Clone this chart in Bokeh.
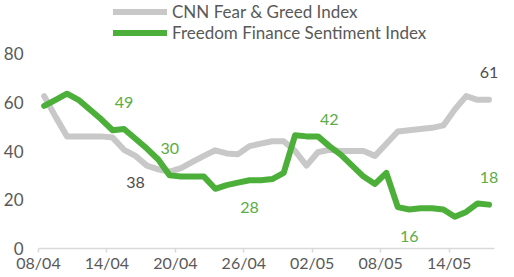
from bokeh.plotting import figure
from bokeh.models import (ColumnDataSource, LabelSet, Legend, LegendItem,
                          FixedTicker, Range1d)
from bokeh.embed import file_html
from bokeh.resources import INLINE
from bokeh.core.properties import value

# ---- data -------------------------------------------------------------
dates = ["08/04", "09/04", "10/04", "11/04", "12/04", "13/04", "14/04", "15/04",
         "16/04", "17/04", "18/04", "19/04", "20/04", "21/04", "22/04", "23/04",
         "24/04", "25/04", "26/04", "27/04", "28/04", "29/04", "30/04", "01/05",
         "02/05", "03/05", "04/05", "05/05", "06/05", "07/05", "08/05", "09/05",
         "10/05", "11/05", "12/05", "13/05", "14/05", "15/05", "16/05", "17/05"]

cnn_fear_greed = [62.5, 54, 46, 46, 46, 46, 45.5, 40.5, 38, 34,
                  32.5, 31.5, 33, 35.5, 38, 40.3, 39, 38.7, 42, 43,
                  44, 44, 40, 34, 39.5, 40.5, 40, 40, 40, 38,
                  43, 48, 48.5, 49, 49.5, 50.5, 57, 62.5, 61, 61]

ff_sentiment = [58.5, 61, 63.5, 61, 57, 53, 48.5, 49, 45, 41,
                36.5, 30, 29.5, 29.5, 29.5, 24.5, 26, 27, 28, 28,
                28.5, 31, 46.5, 46, 46, 42, 38.5, 34, 29.5, 26.5,
                31, 17, 16, 16.5, 16.5, 16, 13, 15, 18.5, 18]

tick_labels = ["08/04", "14/04", "20/04", "26/04", "02/05", "08/05", "14/05"]
y_ticks = [0, 20, 40, 60, 80]

ff_label_idx = [7, 11, 18, 25, 32, 39]
ff_label_pos = ["above", "above", "below", "above", "below", "above"]
cnn_label_idx = [8, 39]
cnn_label_pos = ["below", "above"]

# ---- styles / layout --------------------------------------------------
GRAY = "#c8c8c8"
GREEN = "#4caf3a"
GREEN_TXT = "#5aac46"
TXT = "#595959"
FONT = "Lato"

W, H = 498, 272
LEFT_PX = 38          # where x = 0 sits, px from canvas left
LAST_PX = 488.5       # where the last day sits
ZERO_PX = 248         # where y = 0 sits, px from canvas top
TOP80_PX = 53         # where y = 80 sits

n = len(dates)
x = [i + 0.5 for i in range(n)]
tick_pos = [dates.index(t) for t in tick_labels]

sx = (LAST_PX - LEFT_PX) / x[-1]
x_start = -LEFT_PX / sx
x_end = (W - LEFT_PX) / sx
sy = (ZERO_PX - TOP80_PX) / 80
y_end = ZERO_PX / sy
y_start = -(H - ZERO_PX) / sy

p = figure(width=W, height=H, output_backend="svg", toolbar_location=None,
           x_range=Range1d(x_start, x_end), y_range=Range1d(y_start, y_end),
           min_border_left=0, min_border_right=0, min_border_top=0,
           min_border_bottom=0)
p.outline_line_color = None
p.background_fill_color = "white"
p.border_fill_color = "white"
p.grid.visible = False

src = ColumnDataSource(dict(x=x, cnn=cnn_fear_greed, ff=ff_sentiment))
r_cnn = p.line("x", "cnn", source=src, line_color=GRAY, line_width=6,
               line_cap="round", line_join="round")
r_ff = p.line("x", "ff", source=src, line_color=GREEN, line_width=6,
              line_cap="round", line_join="round")

# axes (pinned inside the frame)
xa = p.xaxis[0]
xa.fixed_location = 0
xa.ticker = FixedTicker(ticks=tick_pos)
xa.bounds = (0, n)
xa.major_label_overrides = {tp: lab for tp, lab in zip(tick_pos, tick_labels)}
xa.axis_line_color = "#d9d9d9"
xa.axis_line_width = 1.5
xa.major_tick_line_color = "#d9d9d9"
xa.major_tick_line_width = 1.5
xa.major_tick_in = 0
xa.major_tick_out = 4
xa.minor_tick_line_color = None
xa.major_label_text_font = FONT
xa.major_label_text_font_size = "16px"
xa.major_label_text_color = TXT
xa.major_label_standoff = 0

ya = p.yaxis[0]
ya.fixed_location = 0
ya.ticker = FixedTicker(ticks=y_ticks)
ya.axis_line_color = None
ya.major_tick_line_color = None
ya.major_tick_in = 0
ya.major_tick_out = 0
ya.minor_tick_line_color = None
ya.major_label_text_font = FONT
ya.major_label_text_font_size = "17px"
ya.major_label_text_color = TXT
ya.major_label_standoff = 15

# data labels
def label_source(series, idx, pos):
    return ColumnDataSource(dict(
        x=[x[i] for i in idx],
        y=[series[i] for i in idx],
        t=[str(int(round(series[i]))) for i in idx],
        off=[27 if ps == "above" else -27 for ps in pos]))

for series, idx, pos, col in [(ff_sentiment, ff_label_idx, ff_label_pos, GREEN_TXT),
                              (cnn_fear_greed, cnn_label_idx, cnn_label_pos, "#4d4d4d")]:
    ls = LabelSet(x="x", y="y", text="t", y_offset="off", source=label_source(series, idx, pos),
                  text_font=value(FONT), text_font_size="16px", text_color=col,
                  text_align="center", text_baseline="middle")
    p.add_layout(ls)

legend = Legend(items=[LegendItem(label="CNN Fear & Greed Index", renderers=[r_cnn]),
                       LegendItem(label="Freedom Finance Sentiment Index", renderers=[r_ff])],
                location=(113, 229), orientation="vertical",
                glyph_width=54, glyph_height=19, label_height=19, label_standoff=5,
                spacing=0, padding=0, margin=0,
                label_text_font=FONT, label_text_font_size="17px", label_text_color=TXT,
                border_line_alpha=0, background_fill_alpha=0)
p.add_layout(legend, "center")

open("out.html", "w").write(file_html(p, INLINE))
